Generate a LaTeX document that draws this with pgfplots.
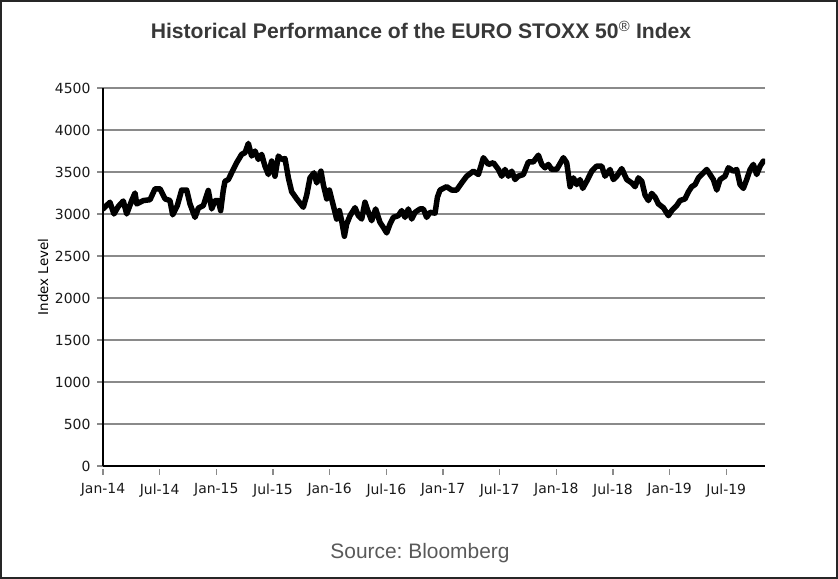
\documentclass[border=0pt]{standalone}
\usepackage{pgfplots}
\pgfplotsset{compat=1.18}
\usepackage{pgfplotstable}
\usepackage{fontspec}
\setmainfont{DejaVu Sans}
\newfontfamily\arial{Liberation Sans}
\definecolor{gridc}{HTML}{8A8A8A}
\pgfplotstableread{
m v
0.00 3060
0.74 3140
1.16 3000
1.62 3090
2.15 3155
2.51 3000
3.04 3160
3.39 3250
3.57 3120
4.27 3160
4.98 3170
5.51 3300
6.04 3300
6.57 3180
7.09 3160
7.38 2990
7.87 3100
8.33 3285
8.86 3285
9.21 3120
9.74 2960
10.10 3070
10.62 3100
11.15 3280
11.51 3060
11.86 3160
12.21 3160
12.46 3040
12.74 3285
12.92 3390
13.27 3410
13.62 3490
14.15 3610
14.68 3710
15.04 3730
15.39 3840
15.74 3690
16.10 3750
16.45 3650
16.80 3710
17.15 3570
17.51 3470
17.86 3630
18.21 3450
18.57 3690
18.92 3650
19.27 3660
19.63 3430
19.98 3265
20.51 3180
21.21 3080
21.57 3225
21.92 3430
22.34 3490
22.63 3370
23.08 3510
23.33 3350
23.69 3180
23.97 3285
24.39 3100
24.74 2940
25.03 3040
25.27 2920
25.56 2735
25.80 2880
26.16 2980
26.69 3075
27.04 2980
27.39 2940
27.74 3140
28.10 3020
28.45 2920
28.87 3060
29.33 2900
29.69 2840
30.04 2775
30.39 2880
30.74 2960
31.27 2980
31.63 3040
31.98 2960
32.33 3060
32.69 2940
33.04 3020
33.57 3060
33.92 3060
34.27 2960
34.63 3020
35.16 3010
35.41 3200
35.69 3285
36.39 3325
36.92 3285
37.45 3285
37.98 3370
38.51 3450
39.22 3510
39.75 3470
40.28 3670
40.81 3590
41.34 3610
41.87 3530
42.22 3450
42.57 3530
42.93 3450
43.28 3510
43.63 3410
43.98 3450
44.51 3470
45.04 3620
45.57 3620
46.10 3700
46.46 3590
46.81 3550
47.16 3590
47.51 3530
48.04 3530
48.75 3670
49.10 3610
49.46 3325
49.81 3430
50.16 3350
50.51 3410
50.80 3305
51.22 3390
51.75 3510
52.28 3570
52.81 3570
53.16 3450
53.69 3530
54.04 3410
54.40 3450
54.93 3540
55.46 3410
55.99 3370
56.34 3325
56.69 3430
57.05 3390
57.40 3225
57.75 3160
58.10 3245
58.46 3200
58.81 3120
59.34 3075
59.87 2980
60.22 3040
60.75 3100
61.10 3160
61.63 3180
61.99 3265
62.34 3325
62.69 3350
63.05 3430
63.40 3470
63.93 3530
64.28 3470
64.63 3410
64.99 3285
65.34 3410
65.87 3450
66.22 3550
66.75 3510
67.10 3530
67.46 3350
67.81 3305
68.16 3410
68.52 3530
68.87 3590
69.22 3470
69.58 3570
69.93 3630
}\stoxx
\begin{document}
\begin{tikzpicture}[x=1bp,y=1bp]
\useasboundingbox (0,0) rectangle (838,579);
\draw[line width=1.6bp, black!85] (0.8,0.8) rectangle (837.2,578.2);
\begin{axis}[
  at={(103bp,113bp)}, anchor=south west,
  scale only axis, width=662bp, height=378bp,
  xmin=0, xmax=70.1, ymin=0, ymax=4500,
  axis x line*=bottom, axis y line*=left,
  axis line style={black, line width=1.6bp, -},
  ytick={0,500,...,4500},
  xtick={0,6,...,66},
  xticklabels={Jan-14,Jul-14,Jan-15,Jul-15,Jan-16,Jul-16,Jan-17,Jul-17,Jan-18,Jul-18,Jan-19,Jul-19},
  ymajorgrids, grid style={gridc, line width=1.6bp},
  tick align=outside, major tick length=6bp,
  x tick style={gridc, line width=1.2bp, yshift=-3bp},
  y tick style={gridc, line width=1.2bp},
  ticklabel style={font=\fontsize{14}{16}\selectfont, text=black!90},
  xticklabel style={yshift=-8bp},
  yticklabel style={xshift=-3bp},
  /pgf/number format/assume math mode=true,
  /pgf/number format/set thousands separator={},
  ylabel={Index Level},
  ylabel style={font=\fontsize{13.5}{15}\selectfont, at={(axis description cs:-0.0906,0.5)}, anchor=center},
]
\addplot[black, line width=5.5bp, line join=round, line cap=round] table[x=m, y=v] {\stoxx};
\end{axis}
\node[font=\arial\bfseries\fontsize{21.2}{23}\selectfont, text=black!78] at (421,549) {Historical Performance of the EURO STOXX 50\textsuperscript{\mdseries\textregistered} Index};
\node[font=\arial\fontsize{21}{23}\selectfont, text=black!65] at (420,26) {Source:\ Bloomberg};
\end{tikzpicture}
\end{document}
